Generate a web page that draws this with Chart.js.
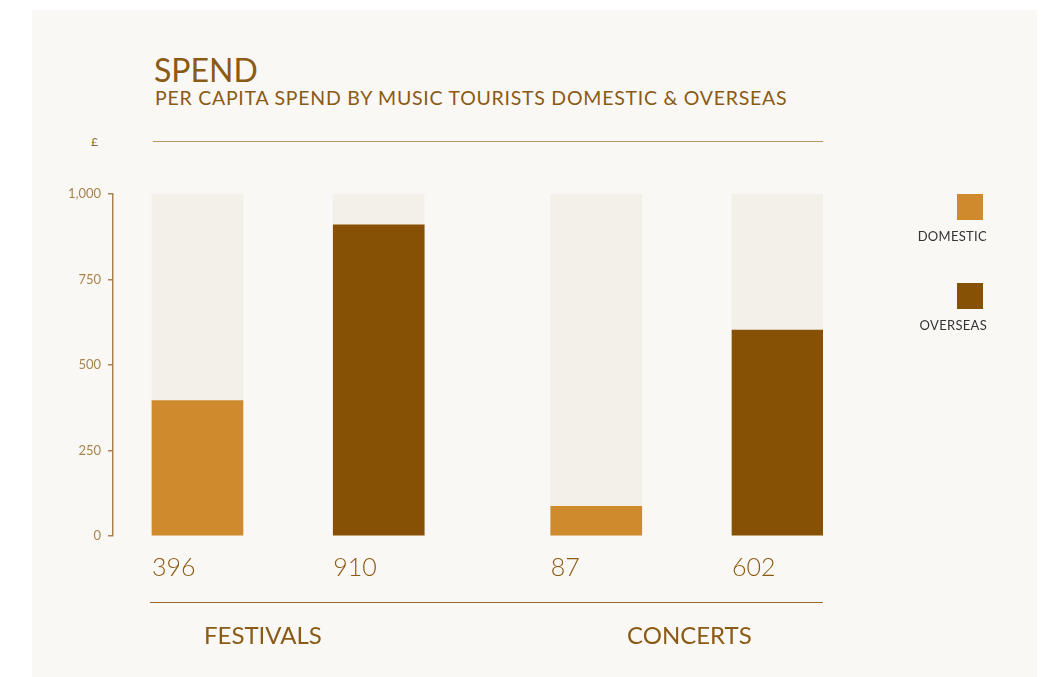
<!DOCTYPE html>
<html>
<head>
<meta charset="utf-8">
<script src="https://cdn.jsdelivr.net/npm/chart.js@4.4.0/dist/chart.umd.min.js"></script>
<style>
  html, body { margin:0; padding:0; background:#ffffff; }
  #wrap { position:relative; width:1049px; height:677px; overflow:hidden; }
  #panel { position:absolute; left:32px; top:10px; width:1005px; height:667px; background:#faf8f4; }
  #c { position:absolute; left:0; top:0; }
  .t { position:absolute; font-family:Lato, "Open Sans", sans-serif; color:#8b5a14; white-space:nowrap; }
  .rule { position:absolute; height:1px; }
  .sw { position:absolute; width:26px; height:26px; }
  .lg { position:absolute; font-family:Lato, "Open Sans", sans-serif; font-size:13px; color:#333; text-align:right; width:120px; white-space:nowrap; letter-spacing:0.3px; }
</style>
</head>
<body>
<div id="wrap">
  <div id="panel"></div>
  <div class="t" style="left:154px; top:50px; font-size:32px; font-weight:400;">SPEND</div>
  <div class="t" style="left:155px; top:86px; font-size:19.5px; letter-spacing:0.75px;">PER CAPITA SPEND BY MUSIC TOURISTS DOMESTIC &amp; OVERSEAS</div>
  <div class="t" style="left:91px; top:134px; font-size:12px; color:#8b6a3a;">£</div>
  <div class="rule" style="left:153px; top:141px; width:670px; background:#b8996a;"></div>
  <div class="rule" style="left:150px; top:602px; width:673px; background:#9a6a2a;"></div>
  <canvas id="c" width="1049" height="677"></canvas>
  <div id="labels"></div>
  <div id="legend"></div>
</div>
<script>
// ---- data ----
const categories = ['FESTIVALS', 'CONCERTS'];
const seriesNames = ['DOMESTIC', 'OVERSEAS'];
const domestic = [396, 87];
const overseas = [910, 602];
const scaleMax = 1000;
const yTickStep = 250;

// ---- styling / layout ----
const seriesColors = ['#cf8a2e', '#865104'];
const trackColor = '#f3f0ea';
const groupGap = 2.2;          // distance between group starts in bar units
const groupLabelLeft = [204, 627];
const inkColor = '#8b5a14';

const seriesValues = [domestic, overseas];
const valuePoints = [], trackPoints = [], barColors = [];
categories.forEach((cat, g) => {
  seriesValues.forEach((vals, s) => {
    const x = g * groupGap + s;
    valuePoints.push({ x: x, y: vals[g] });
    trackPoints.push({ x: x, y: scaleMax });
    barColors.push(seriesColors[s]);
  });
});

// group labels and legend (HTML text)
const labelsDiv = document.getElementById('labels');
categories.forEach((cat, i) => {
  const d = document.createElement('div');
  d.className = 't';
  d.style.left = groupLabelLeft[i] + 'px';
  d.style.top = '620px';
  d.style.fontSize = '24px';
  d.textContent = cat;
  labelsDiv.appendChild(d);
});
const legendDiv = document.getElementById('legend');
seriesNames.forEach((name, i) => {
  const sw = document.createElement('div');
  sw.className = 'sw';
  sw.style.left = '957px';
  sw.style.top = (194 + i * 89) + 'px';
  sw.style.background = seriesColors[i];
  legendDiv.appendChild(sw);
  const lg = document.createElement('div');
  lg.className = 'lg';
  lg.style.left = (987 - 120) + 'px';
  lg.style.top = (228 + i * 89) + 'px';
  lg.textContent = name;
  legendDiv.appendChild(lg);
});

const valueLabelPlugin = {
  id: 'valueLabels',
  afterDatasetsDraw(chart) {
    const ctx = chart.ctx;
    const meta = chart.getDatasetMeta(0);
    ctx.save();
    ctx.font = '300 25px Lato, "Open Sans", sans-serif';
    ctx.fillStyle = inkColor;
    ctx.textAlign = 'left';
    ctx.textBaseline = 'alphabetic';
    meta.data.forEach((bar, i) => {
      const v = chart.data.datasets[0].data[i].y;
      ctx.fillText(String(v), bar.x - bar.width / 2, chart.chartArea.bottom + 40);
    });
    ctx.restore();
  }
};

new Chart(document.getElementById('c'), {
  type: 'bar',
  data: {
    datasets: [
      { data: valuePoints, backgroundColor: barColors, grouped: false, barThickness: 91, borderWidth: 0 },
      { data: trackPoints, backgroundColor: trackColor, grouped: false, barThickness: 91, borderWidth: 0 }
    ]
  },
  options: {
    responsive: false,
    animation: false,
    layout: { padding: { left: 0, right: 226, top: 194, bottom: 141 } },
    plugins: { legend: { display: false }, tooltip: { enabled: false }, title: { display: false } },
    scales: {
      x: { type: 'linear', offset: false, min: -0.466, max: 3.451, display: false },
      y: {
        min: 0, max: scaleMax,
        afterFit(scale) { scale.width = 113; },
        border: { display: true, color: '#a8834f', width: 1.5 },
        grid: { drawOnChartArea: false, drawTicks: true, tickLength: 5, color: '#a8834f', lineWidth: 1.5 },
        ticks: { stepSize: yTickStep, padding: 7, color: '#a8834f', font: { family: 'Lato, "Open Sans", sans-serif', size: 13 } }
      }
    }
  },
  plugins: [valueLabelPlugin]
});
</script>
</body>
</html>
